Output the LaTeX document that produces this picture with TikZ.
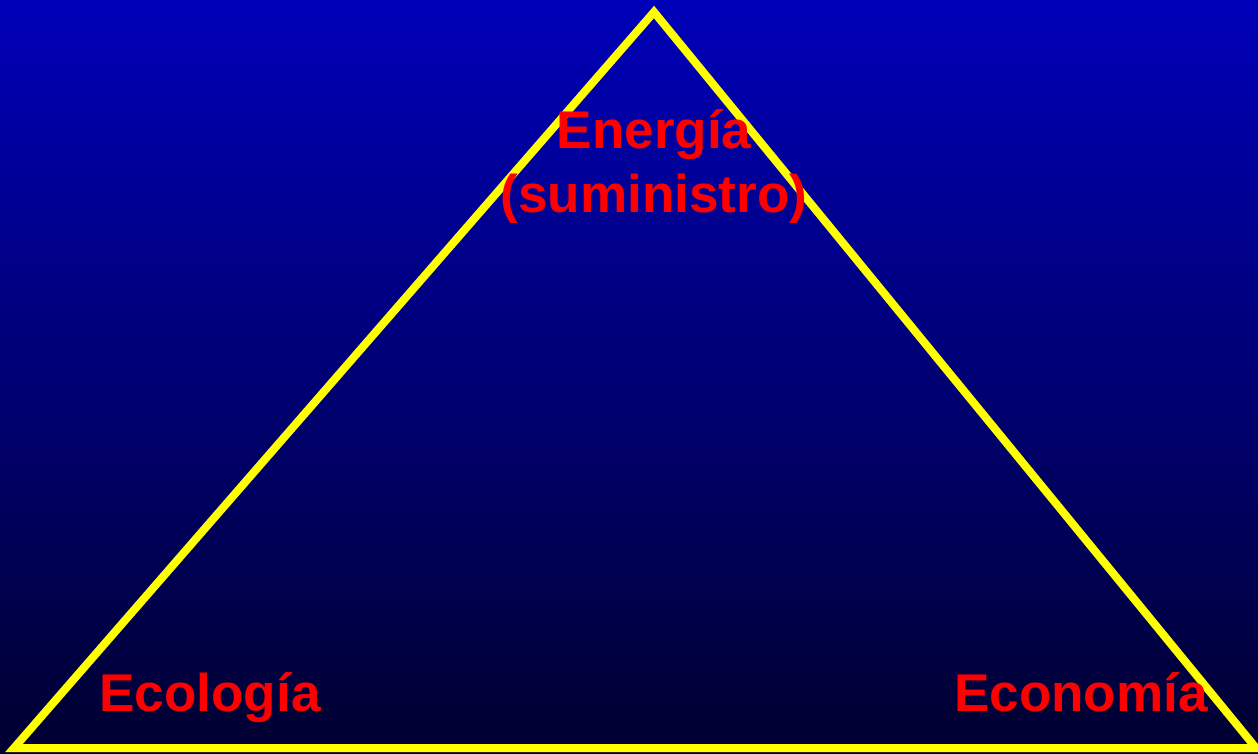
\documentclass[tikz,border=0pt]{standalone}
\usepackage{fontspec}
\setmainfont{Liberation Sans}
\usetikzlibrary{positioning}
\definecolor{skytop}{RGB}{0,0,184}
\definecolor{skybot}{RGB}{0,0,48}
\definecolor{edgeyellow}{RGB}{255,255,0}
\definecolor{labelred}{RGB}{255,0,0}

\begin{document}
\begin{tikzpicture}[x=0.01cm,y=0.01cm,
  label/.style={text=labelred,font=\fontsize{15.1}{17.6}\selectfont\bfseries,inner sep=0pt,anchor=base},
  edge/.style={draw=edgeyellow,line width=0.08cm,line join=miter}]
% background
\useasboundingbox (0,0) rectangle (1258,753);
\shade[top color=skytop,bottom color=skybot] (0,0) rectangle (1258,753);
% triangle corners
\coordinate (apex) at (654,741);
\coordinate (left) at (14,5);
\coordinate (right) at (1256,5);
\draw[edge] (left) -- (apex) -- (right) -- cycle;
% labels
\node[label] (energia) at (654,605) {Energía};
\node[label] (suministro) at (654,541) {(suministro)};
\node[label] (ecologia) at (210,42) {Ecología};
\node[label] (economia) at (1081,42) {Economía};
\end{tikzpicture}
\end{document}
